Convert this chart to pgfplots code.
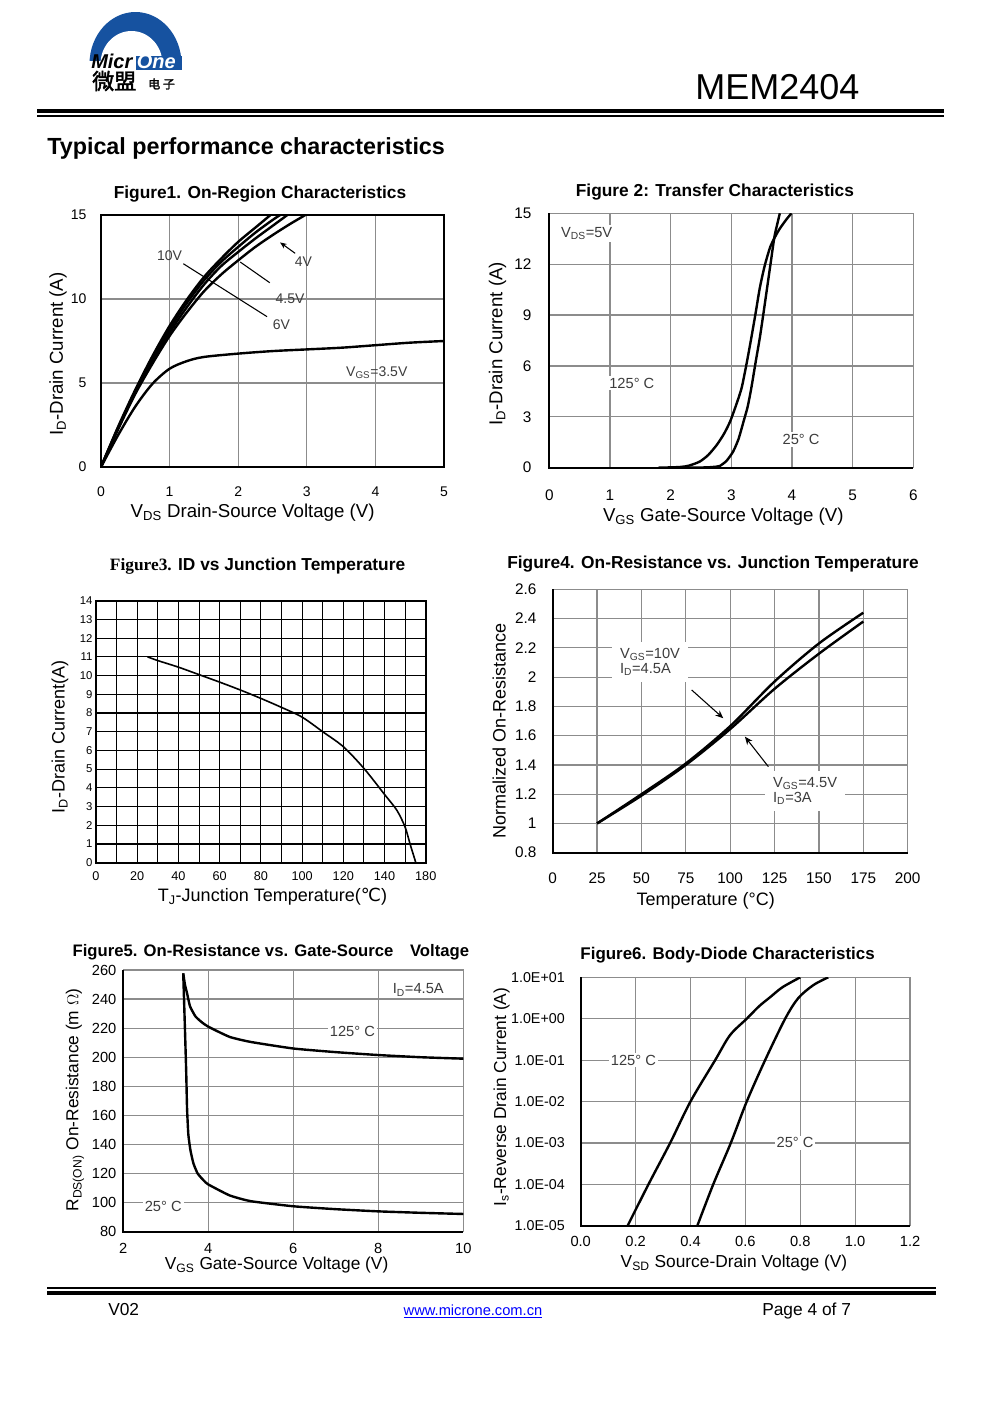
\documentclass[border=0pt]{standalone}
\usepackage{fontspec}
\setmainfont{Liberation Sans}
\newfontfamily\seriffont{Liberation Serif}
\newfontfamily\dejavu{DejaVu Sans}
\newfontfamily\cjk[FakeBold=2]{Noto Sans CJK SC}
\usepackage{pgfplots}
\pgfplotsset{compat=1.18}
\usetikzlibrary{arrows.meta}

\newcommand\fs[1]{\fontsize{#1}{#1}\selectfont}
\definecolor{gridgray}{RGB}{140,140,140}
\definecolor{logoblue}{RGB}{22,82,160}
\definecolor{labelgray}{RGB}{60,60,60}

\tikzset{ann/.style={font=\fs{10.5}, text=labelgray, inner sep=1.5pt}}
\pgfplotsset{
  dsaxis/.style={
    scale only axis, anchor=south west, clip mode=individual,
    grid=major, major grid style={draw=gridgray, line width=0.9pt},
    axis line style={draw=black, line width=1.2pt},
    major tick length=0pt, minor tick length=0pt,
    /pgf/number format/assume math mode=true,
    tick label style={inner sep=0pt},
    label style={font=\fs{14}},
    title style={font=\bfseries\fs{13}, anchor=center},
    every axis plot/.append style={draw=black, line width=1.8pt, no markers},
  },
  grayframe/.style={axis line style={draw=gridgray, line width=0.9pt}},
}
\newcommand\Lframe{\draw[black, line width=1.6pt] (rel axis cs:0,1) -- (rel axis cs:0,0) -- (rel axis cs:1,0);}

\begin{document}
\begin{tikzpicture}[x=0.75pt, y=0.75pt]
\path[use as bounding box] (0,0) rectangle (991,-1403);
\fill[white] (0,0) rectangle (991,-1403);

% ---------- header ----------
\begin{scope}
  \clip (85,0) rectangle (186,-60);
  \fill[logoblue] (135.5,-64) ellipse [x radius=46, y radius=52];
  \fill[white] (131.5,-64) ellipse [x radius=31, y radius=33];
\end{scope}
\fill[logoblue] (136,-56) rectangle (182,-70);
\node[anchor=base west, inner sep=0, font=\bfseries\itshape\fs{15}] at (91,-68.5) {Micr};
\node[anchor=base west, inner sep=0, font=\bfseries\itshape\fs{15}, text=white] at (136.5,-68.5) {One};
\node[anchor=west, inner sep=0, font=\cjk\fs{16.5}] at (92,-81) {微盟};
\node[anchor=west, inner sep=0, font=\cjk\fs{9}] at (148,-84) {电\hspace{2pt}子};
\node[anchor=base west, inner sep=0, font=\fs{27}] at (695,-99) {MEM2404};
\fill[black] (37,-108.5) rectangle (944,-113);
\fill[black] (37,-115) rectangle (944,-116.8);
\node[anchor=base west, inner sep=0, font=\bfseries\fs{17.5}] at (47,-154) {Typical performance characteristics};

% ---------- Figure 1 ----------
\begin{axis}[dsaxis, at={(75.75pt,-350.25pt)}, width=257.25pt, height=189pt,
  xmin=0, xmax=5, ymin=0, ymax=15, xtick={0,...,5}, ytick={0,5,10,15},
  tick label style={font=\fs{10.5}},
  xticklabel style={anchor=center, yshift=-18.5pt},
  yticklabel style={anchor=east, xshift=-10.7pt},
  xlabel={V\textsubscript{DS} Drain-Source Voltage (V)},
  ylabel={I\textsubscript{D}-Drain Current (A)},
  xlabel style={at={(axis description cs:0.442,-0.182)}, anchor=center},
  ylabel style={at={(axis description cs:-0.125,0.448)}, anchor=center},
  title={Figure1. On-Region Characteristics},
  title style={at={(axis description cs:0.4636,1.051)}},
]
\addplot[smooth] coordinates {(0,0) (0.25,2.4) (0.5,4.6) (0.75,6.6) (1,8.4) (1.25,9.95) (1.5,11.3) (1.75,12.4) (2,13.4) (2.25,14.25) (2.5,15.1)};
\addplot[smooth] coordinates {(0,0) (0.25,2.35) (0.5,4.5) (0.75,6.45) (1,8.2) (1.25,9.75) (1.5,11.1) (1.75,12.2) (2,13.1) (2.25,13.95) (2.5,14.7) (2.65,15.1)};
\addplot[smooth] coordinates {(0,0) (0.25,2.3) (0.5,4.45) (0.75,6.3) (1,8.0) (1.25,9.5) (1.5,10.85) (1.75,11.95) (2,12.8) (2.25,13.6) (2.5,14.35) (2.75,15.1)};
\addplot[smooth] coordinates {(0,0) (0.25,2.25) (0.5,4.35) (0.75,6.15) (1,7.8) (1.25,9.2) (1.5,10.45) (1.75,11.45) (2,12.3) (2.25,13.1) (2.5,13.8) (2.75,14.45) (3,15.05)};
\addplot[smooth] coordinates {(0,0) (0.25,1.9) (0.5,3.6) (0.75,4.95) (1,5.85) (1.25,6.3) (1.5,6.55) (2,6.75) (2.5,6.9) (3,7.0) (3.5,7.1) (4,7.25) (4.5,7.4) (5,7.5)};
\node[ann] at (axis cs:1.0,12.6) {10V};
\draw[line width=0.8pt] (axis cs:1.2,12.1) -- (axis cs:2.42,8.95);
\node[ann] at (axis cs:2.63,8.45) {6V};
\node[ann] at (axis cs:2.755,10.04) {4.5V};
\draw[line width=0.8pt] (axis cs:2.03,12.2) -- (axis cs:2.46,10.97);
\draw[line width=0.8pt, -{Stealth[length=5pt, width=4pt]}] (axis cs:2.83,12.72) -- (axis cs:2.61,13.37);
\node[ann] at (axis cs:2.95,12.22) {4V};
\node[ann] at (axis cs:4.02,5.61) {V\textsubscript{GS}=3.5V};
\end{axis}

% ---------- Figure 2 ----------
\begin{axis}[dsaxis, grayframe, at={(411.975pt,-350.775pt)}, width=273pt, height=190.8pt,
  xmin=0, xmax=6, ymin=0, ymax=15, xtick={0,...,6}, ytick={0,3,...,15},
  tick label style={font=\fs{11.5}},
  xticklabel style={anchor=center, yshift=-20.5pt},
  yticklabel style={anchor=east, xshift=-13.2pt},
  xlabel={V\textsubscript{GS} Gate-Source Voltage (V)},
  ylabel={I\textsubscript{D}-Drain Current (A)},
  xlabel style={at={(axis description cs:0.478,-0.192)}, anchor=center},
  ylabel style={at={(axis description cs:-0.142,0.487)}, anchor=center},
  title={Figure 2: Transfer Characteristics},
  title style={at={(axis description cs:0.455,1.053)}},
]
\Lframe
\addplot[smooth, tension=0.4] coordinates {(1.8,0) (2.15,0.04) (2.3,0.12) (2.48,0.36) (2.62,0.75) (2.76,1.34) (2.88,2.0) (2.98,2.72) (3.08,3.7) (3.17,4.7) (3.25,6.1) (3.33,7.66) (3.40,9.1) (3.47,10.6) (3.55,11.9) (3.64,13.0) (3.72,13.6) (3.8,14.1) (3.9,14.6) (3.99,15.0)};
\addplot[smooth, tension=0.4] coordinates {(2.3,0) (2.6,0.02) (2.75,0.06) (2.81,0.1) (2.92,0.4) (3.03,0.95) (3.12,1.7) (3.2,2.7) (3.27,3.6) (3.33,4.7) (3.40,6.2) (3.47,7.66) (3.53,9.1) (3.59,10.6) (3.65,12.1) (3.71,13.6) (3.76,14.4) (3.80,15.0)};
\node[ann, fill=white, font=\fs{11}] at (axis cs:0.616,13.82) {V\textsubscript{DS}=5V};
\node[ann, fill=white, font=\fs{11}] at (axis cs:1.36,4.98) {125° C};
\node[ann, fill=white, font=\fs{11}] at (axis cs:4.15,1.67) {25° C};
\end{axis}

% ---------- Figure 3 ----------
\begin{axis}[dsaxis, at={(72pt,-647.025pt)}, width=247.3pt, height=196.5pt,
  major grid style={draw=black, line width=0.8pt},
  xmin=0, xmax=160, ymin=0, ymax=14,
  xtick={0,10,...,160}, xticklabels={0,,20,,40,,60,,80,,100,,120,,140,,180},
  ytick={0,...,14},
  xticklabel style={font=\fs{9.5}, anchor=center, yshift=-10pt},
  yticklabel style={font=\fs{8.5}, anchor=east, xshift=-2.5pt},
  label style={font=\fs{13.5}},
  xlabel={T\textsubscript{J}-Junction Temperature({\dejavu ℃})},
  ylabel={I\textsubscript{D}-Drain Current(A)},
  xlabel style={at={(axis description cs:0.535,-0.13)}, anchor=center},
  ylabel style={at={(axis description cs:-0.109,0.481)}, anchor=center},
  title={{\seriffont Figure3.} ID vs Junction Temperature},
  title style={at={(axis description cs:0.49,1.102)}},
]
\addplot[smooth, line width=1.2pt] coordinates {(25,11.0) (30,10.8) (40,10.45) (50,10.05) (60,9.65) (70,9.23) (80,8.78) (90,8.3) (100,7.78) (110,7.0) (120,6.2) (130,5.04) (140,3.65) (146,2.8) (150,1.9) (152.4,1.0) (155.2,0)};
\end{axis}

% ---------- Figure 4 ----------
\begin{axis}[dsaxis, grayframe, at={(414.525pt,-639.525pt)}, width=266.25pt, height=197.55pt,
  xmin=0, xmax=200, ymin=0.8, ymax=2.6, xtick={0,25,...,200},
  ytick={0.8,1,1.2,1.4,1.6,1.8,2,2.2,2.4,2.6},
  yticklabels={0.8,1,1.2,1.4,1.6,1.8,2,2.2,2.4,2.6},
  tick label style={font=\fs{11.5}},
  xticklabel style={anchor=center, yshift=-19.2pt},
  yticklabel style={anchor=east, xshift=-12pt},
  label style={font=\fs{13.5}},
  xlabel={Temperature (°C)},
  ylabel={Normalized On-Resistance},
  xlabel style={at={(axis description cs:0.431,-0.183)}, anchor=center},
  ylabel style={at={(axis description cs:-0.151,0.463)}, anchor=center},
  title={Figure4. On-Resistance vs. Junction Temperature},
  title style={at={(axis description cs:0.4515,1.067)}},
]
\Lframe
\addplot[smooth] coordinates {(25,1.0) (50,1.2) (75,1.41) (100,1.665) (125,1.97) (150,2.23) (175,2.44)};
\addplot[smooth] coordinates {(25,1.0) (50,1.19) (75,1.40) (100,1.645) (125,1.92) (150,2.16) (175,2.38)};
\node[ann, fill=white, align=left, font=\fs{11}, inner xsep=6pt, inner ysep=5pt] at (axis cs:54.8,2.105) {V\textsubscript{GS}=10V\\I\textsubscript{D}=4.5A};
\node[ann, fill=white, align=left, font=\fs{11}, inner xsep=6pt, inner ysep=5pt] at (axis cs:142.2,1.223) {V\textsubscript{GS}=4.5V\\I\textsubscript{D}=3A};
\draw[line width=0.8pt, -{Stealth[length=6pt, width=5pt]}] (axis cs:78.3,1.912) -- (axis cs:96.1,1.719);
\draw[line width=0.8pt, -{Stealth[length=6pt, width=5pt]}] (axis cs:121.5,1.388) -- (axis cs:108.3,1.593);
\end{axis}

% ---------- Figure 5 ----------
\begin{axis}[dsaxis, grayframe, at={(92.475pt,-923.775pt)}, width=255pt, height=196.3pt,
  xmin=2, xmax=10, ymin=80, ymax=260, xtick={2,4,...,10}, ytick={80,100,...,260},
  tick label style={font=\fs{11}},
  xticklabel style={anchor=center, yshift=-12.5pt},
  yticklabel style={anchor=east, xshift=-5pt},
  label style={font=\fs{13}},
  xlabel={V\textsubscript{GS} Gate-Source Voltage (V)},
  ylabel={R\textsubscript{DS(ON)} On-Resistance (m $\Omega$)},
  xlabel style={at={(axis description cs:0.451,-0.127)}, anchor=center},
  ylabel style={at={(axis description cs:-0.142,0.503)}, anchor=center},
  title={Figure5. On-Resistance vs. Gate-Source\hspace{1em}Voltage},
  title style={font=\bfseries\fs{12.5}, at={(axis description cs:0.434,1.038)}},
]
\Lframe
\addplot[smooth, tension=0.3] coordinates {(3.41,257.7) (3.45,220) (3.48,190) (3.50,165) (3.53,147) (3.58,136) (3.65,127) (3.75,120) (3.9,115) (4.0,112.5) (4.5,105) (5,101) (6,97.5) (7,95.5) (8,94) (9,93) (10,92.2)};
\addplot[smooth, tension=0.3] coordinates {(3.41,257.7) (3.45,250) (3.5,244) (3.57,235) (3.7,228) (3.85,224) (4.0,221) (4.5,214) (5,210.5) (6,206) (7,203.5) (8,201.5) (9,200) (10,199)};
\node[ann, fill=white, font=\fs{11}] at (axis cs:8.94,246.2) {I\textsubscript{D}=4.5A};
\node[ann, fill=white, font=\fs{11}] at (axis cs:7.39,217.6) {125° C};
\node[ann, fill=white, font=\fs{11}] at (axis cs:2.94,97.2) {25° C};
\end{axis}

% ---------- Figure 6 ----------
\begin{axis}[dsaxis, grayframe, at={(435.525pt,-919.275pt)}, width=247pt, height=186.3pt,
  xmin=0, xmax=1.2, ymode=log, ymin=1e-5, ymax=10,
  xtick={0,0.2,0.4,0.6,0.8,1.0,1.2}, xticklabels={0.0,0.2,0.4,0.6,0.8,1.0,1.2},
  ytick={1e-5,1e-4,1e-3,1e-2,1e-1,1,10}, minor ytick={},
  yticklabels={1.0E-05,1.0E-04,1.0E-03,1.0E-02,1.0E-01,1.0E+00,1.0E+01},
  xticklabel style={font=\fs{11}, anchor=center, yshift=-11.5pt},
  yticklabel style={font=\fs{10.7}, anchor=east, xshift=-11.8pt},
  label style={font=\fs{13}},
  xlabel={V\textsubscript{SD} Source-Drain Voltage (V)},
  ylabel={I\textsubscript{s}-Reverse Drain Current (A)},
  xlabel style={at={(axis description cs:0.4655,-0.151)}, anchor=center},
  ylabel style={at={(axis description cs:-0.24,0.518)}, anchor=center},
  title={Figure6. Body-Diode Characteristics},
  title style={font=\bfseries\fs{12.7}, at={(axis description cs:0.446,1.058)}},
]
\Lframe
\addplot[smooth] coordinates {(0.171,1e-5) (0.247,1e-4) (0.326,1e-3) (0.40,1e-2) (0.49,1e-1) (0.544,0.4) (0.605,1) (0.65,2.0) (0.69,3.3) (0.735,5.75) (0.8,10)};
\addplot[smooth] coordinates {(0.425,1e-5) (0.483,1e-4) (0.547,1e-3) (0.605,1e-2) (0.672,1e-1) (0.745,1) (0.793,3.16) (0.848,6.5) (0.902,10)};
\node[ann, fill=white, font=\fs{11}] at (axis cs:0.192,1e-1) {125° C};
\node[ann, fill=white, font=\fs{11}] at (axis cs:0.781,1e-3) {25° C};
\end{axis}

% ---------- footer ----------
\fill[black] (47,-1287.3) rectangle (936,-1288.8);
\fill[black] (47,-1290.7) rectangle (936,-1295.3);
\node[anchor=base west, inner sep=0, font=\fs{13}] at (108,-1315) {V02};
\node[anchor=base, inner sep=0, font=\fs{11}, text=blue] at (473,-1315) {\underline{www.microne.com.cn}};
\node[anchor=base west, inner sep=0, font=\fs{13}] at (762,-1315) {Page 4 of 7};
\end{tikzpicture}
\end{document}
